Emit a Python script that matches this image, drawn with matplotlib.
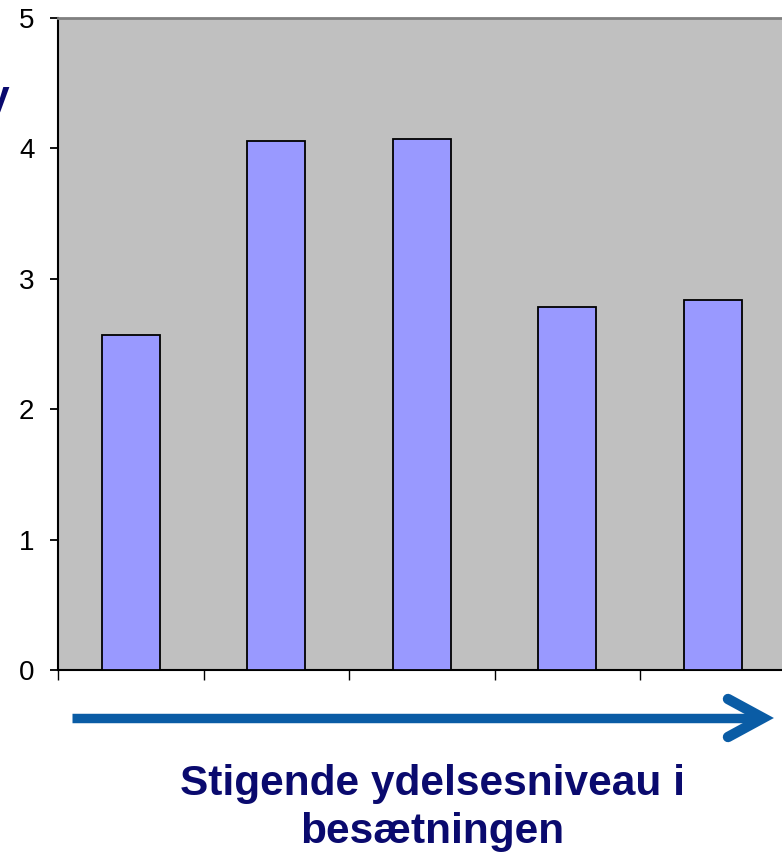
import matplotlib
matplotlib.use("Agg")
import matplotlib.pyplot as plt

plt.rcParams['font.family'] = ['Liberation Sans', 'DejaVu Sans']

categories = ["1", "2", "3", "4", "5"]
values = [2.57, 4.06, 4.07, 2.78, 2.84]
yticks = [0, 1, 2, 3, 4, 5]
xlabel_text = "Stigende ydelsesniveau i\nbesætningen"

W, H = 782, 855
fig = plt.figure(figsize=(W / 100, H / 100), dpi=100)
ax = fig.add_axes([58 / W, 1 - 670 / H, 727.5 / W, 652 / H])
ax.set_facecolor('#C0C0C0')

x = list(range(len(categories)))
ax.bar(x, values, width=0.4, color='#9999FF', edgecolor='black', linewidth=1.3, zorder=3)

ax.set_xlim(-0.5, len(categories) - 0.5)
ax.set_ylim(0, 5)
ax.set_yticks(yticks)
ax.set_yticklabels([str(t) for t in yticks], fontsize=20)
ax.set_xticks([i - 0.5 for i in range(len(categories))])
ax.set_xticklabels([])
ax.tick_params(axis='y', length=6, width=1.3, pad=11, direction='out')
ax.tick_params(axis='x', length=7, width=1.0, direction='out')

for s in ['left', 'bottom']:
    ax.spines[s].set_color('black')
    ax.spines[s].set_linewidth(1.5)
ax.spines['top'].set_color('#808080')
ax.spines['top'].set_linewidth(2)
ax.spines['right'].set_visible(False)

navy = '#0A0A6E'
overlay = fig.add_axes([0, 0, 1, 1], facecolor='none')
overlay.set_xlim(0, W)
overlay.set_ylim(H, 0)
overlay.axis('off')
overlay.plot([72, 756], [718, 718], color='#0A5CA5', lw=6.8, solid_capstyle='butt')
overlay.plot([728, 763, 728], [699, 718, 737], color='#0A5CA5', lw=7.5,
             solid_capstyle='round', solid_joinstyle='miter')

overlay.text(432, 808, xlabel_text, ha='center', va='center', fontsize=30.5,
             fontweight='bold', color=navy, linespacing=1.25)
overlay.text(9, 99, "y", ha='right', va='center', fontsize=30.5,
             fontweight='bold', color=navy)

fig.savefig("out.png", dpi=100)
